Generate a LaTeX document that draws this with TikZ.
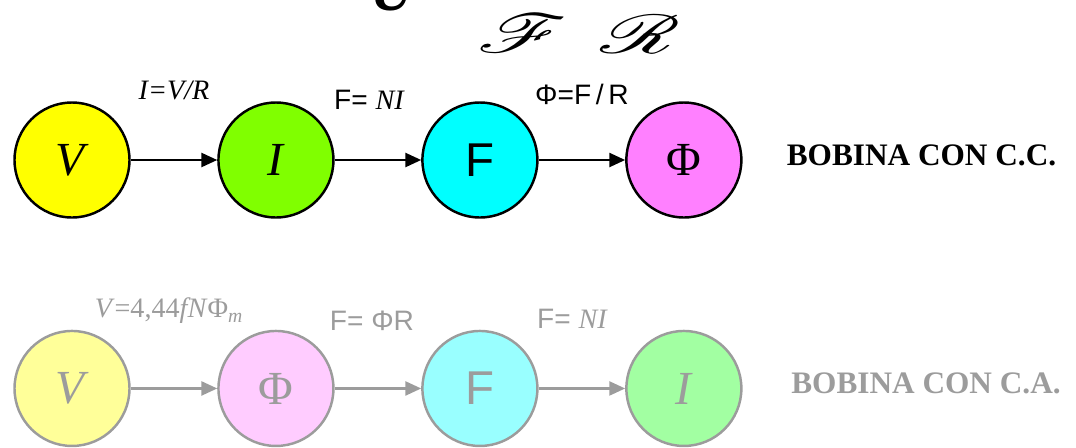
\documentclass[tikz,border=0pt]{standalone}
\usepackage{fontspec}
\setmainfont{Liberation Serif}
\setsansfont{Liberation Sans}
\usepackage{mathrsfs}
\usetikzlibrary{arrows.meta,positioning}
\definecolor{Lemon}{HTML}{FFFF00}
\definecolor{Lime}{HTML}{80FF00}
\definecolor{Aqua}{HTML}{00FFFF}
\definecolor{Orchid}{HTML}{FF80FF}
\definecolor{PaleLemon}{HTML}{FFFF99}
\definecolor{PaleOrchid}{HTML}{FFCCFF}
\definecolor{PaleAqua}{HTML}{99FFFF}
\definecolor{PaleLime}{HTML}{A2FFA2}
\definecolor{Ash}{HTML}{9C9C9C}
\tikzset{
    qty/.style={
        circle, draw=black, fill=#1, line width=1.4pt,
        minimum size=2.3cm, inner sep=0pt,
        font=\fontsize{27}{30}\selectfont
    },
    faded/.style={draw=Ash, text=Ash},
    flow/.style={
        -{Triangle[length=9pt,width=8pt]}, line width=1.2pt
    },
    eqn/.style={font=\fontsize{16}{18}\selectfont, inner sep=1pt},
    caption/.style={font=\fontsize{17.8}{22}\selectfont\bfseries},
    script/.style={font=\fontsize{24.88}{26}\selectfont, inner sep=0pt, xscale=2, yscale=1.25},
}
\begin{document}
\begin{tikzpicture}[node distance=1.73cm]
    \useasboundingbox (0,0) rectangle (21.52,-8.94);
    % Script letters
    \node[anchor=base, font=\fontsize{34}{36}\selectfont\bfseries\itshape] (calU) at (7.84,-0.2) {U};
    \node[script] (calF) at (10.45,-0.66) {$\mathscr{F}$};
    \node[script] (calR) at (12.8,-0.68) {$\mathscr{R}$};

    % Direct current
    \node[qty=Lemon] (V1) at (1.44,-3.2) {\textit{V}};
    \node[qty=Lime, right=of V1] (I1) {\textit{I}};
    \node[qty=Aqua, right=of I1] (F1) {\sffamily F};
    \node[qty=Orchid, right=of F1] (P1) {Φ};
    \node[caption, right=0.76cm of P1, yshift=0.1cm] (cc) {BOBINA CON C.C.};

    \draw[flow] (V1) -- node[eqn, yshift=1.4cm] {\textit{I=V/R}} (I1);
    \draw[flow] (I1) -- node[eqn, xshift=-0.18cm, yshift=1.2cm] {\sffamily F= \rmfamily\itshape NI} (F1);
    \draw[flow] (F1) -- node[eqn, yshift=1.32cm] {\sffamily Φ=F\,/\,R} (P1);

    % Alternating current
    \node[qty=PaleLemon, faded, below=2.22cm of V1] (V2) {\textit{V}};
    \node[qty=PaleOrchid, faded, right=of V2] (P2) {Φ};
    \node[qty=PaleAqua, faded, right=of P2] (F2) {\sffamily F};
    \node[qty=PaleLime, faded, right=of F2] (I2) {\textit{I}};
    \node[caption, text=Ash, right=0.85cm of I2, yshift=0.1cm] (ca) {BOBINA CON C.A.};

    \draw[flow, Ash] (V2) -- node[eqn, xshift=-0.1cm, yshift=1.55cm] {\textit{V}=4,44\textit{fN}Φ\textsubscript{\textit{m}}} (P2);
    \draw[flow, Ash] (P2) -- node[eqn, xshift=-0.12cm, yshift=1.35cm] {\sffamily F= ΦR} (F2);
    \draw[flow, Ash] (F2) -- node[eqn, xshift=-0.2cm, yshift=1.4cm] {\sffamily F= \rmfamily\itshape NI} (I2);
\end{tikzpicture}
\end{document}
